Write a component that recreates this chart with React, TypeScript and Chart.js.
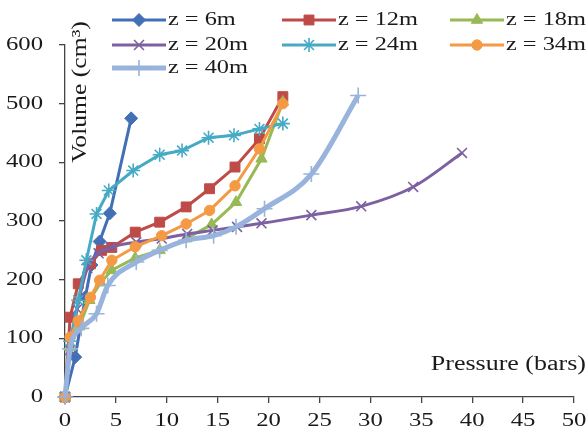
import React, { useEffect, useRef } from "react";
import { Chart, registerables } from "chart.js";
import { drawPoint } from "chart.js/helpers";

Chart.register(...registerables);

const seriesNames = ["z = 6m", "z = 12m", "z = 18m", "z = 20m", "z = 24m", "z = 34m", "z = 40m"];

const x6 = [0, 1.0, 2.0, 2.6, 3.4, 4.4, 6.5];
const y6 = [0, 68, 170, 225, 265, 313, 475];

const x12 = [0, 0.5, 1.3, 2.5, 3.6, 4.6, 6.9, 9.3, 11.9, 14.2, 16.7, 19.1, 21.4];
const y12 = [0, 136, 193, 227, 250, 255, 281, 298, 324, 355, 392, 440, 512];

const x18 = [0, 0.5, 1.4, 2.4, 3.5, 4.6, 6.9, 9.3, 11.9, 14.4, 16.8, 19.3, 21.4];
const y18 = [0, 85, 120, 165, 195, 216, 237, 250, 270, 294, 332, 406, 503];

const x20 = [0, 0.5, 1.2, 2.2, 3.3, 4.5, 7, 9.5, 12, 14.5, 16.9, 19.3, 24.2, 29.1, 34.2, 39];
const y20 = [0, 80, 150, 220, 245, 255, 264, 270, 278, 284, 290, 296, 310, 325, 358, 416];

const x24 = [0, 0.5, 1.3, 2.1, 3.1, 4.3, 6.7, 9.3, 11.5, 14.1, 16.6, 19.1, 21.4];
const y24 = [0, 95, 165, 233, 312, 352, 386, 413, 420, 442, 446, 457, 466];

const x34 = [0, 0.5, 1.3, 2.5, 3.4, 4.6, 6.9, 9.5, 11.9, 14.2, 16.7, 19.1, 21.4];
const y34 = [0, 102, 130, 170, 199, 233, 256, 275, 295, 318, 360, 423, 500];

const x40 = [0, 0.5, 1.6, 3.1, 4.2, 7, 9.3, 11.9, 14.6, 16.8, 19.6, 24.2, 28.8];
const y40 = [0, 82, 117, 142, 190, 230, 250, 267, 275, 290, 321, 380, 514];

const xTickLabels = ["0", "5", "10", "15", "20", "25", "30", "35", "40", "45", "50"];
const yTickLabels = ["0", "100", "200", "300", "400", "500", "600"];

const colors = ["#426FB5", "#BE4B48", "#98B954", "#7D60A0", "#46AAC5", "#F59A44", "#98B3DC"];
const pointStyles = ["rectRot", "rect", "triangle", "crossRot", "star", "circle", "cross"];
const pointRadii = [6.5, 7, 6.5, 7, 7, 5.2, 8];
const lineWidths = [3, 3, 3, 3, 3, 3, 5];
const smooth = [false, false, false, true, false, false, true];

const xs = [x6, x12, x18, x20, x24, x34, x40];
const ys = [y6, y12, y18, y20, y24, y34, y40];

const FONT = "'Liberation Serif', 'Times New Roman', serif";
const STRETCH = 1.3;

function stretchedText(ctx: CanvasRenderingContext2D, text: string, x: number, y: number, align: CanvasTextAlign, size: number, stretch: number, rotate = 0) {
  ctx.save();
  ctx.translate(x, y);
  if (rotate) ctx.rotate(rotate);
  ctx.scale(stretch, 1);
  ctx.font = `${size}px ${FONT}`;
  ctx.textAlign = align;
  ctx.textBaseline = "middle";
  ctx.fillStyle = "#1a1a1a";
  ctx.fillText(text, 0, 0);
  ctx.restore();
}

const textPlugin = {
  id: "textPlugin",
  afterDraw(chart: any) {
    const ctx = chart.ctx as CanvasRenderingContext2D;
    const xs_ = chart.scales.x;
    const ys_ = chart.scales.y;
    xTickLabels.forEach((t) => {
      const px = xs_.getPixelForValue(Number(t));
      stretchedText(ctx, t, px, 421, "center", 19, STRETCH);
    });
    yTickLabels.forEach((t) => {
      const py = ys_.getPixelForValue(Number(t));
      stretchedText(ctx, t, 43, py, "right", 19, STRETCH);
    });
    stretchedText(ctx, "Pressure (bars)", 586, 365, "right", 20, STRETCH);
    stretchedText(ctx, "Volume (cm³)", 80, 92, "center", 21, 1.22, -Math.PI / 2);
    const colX = [112, 282, 450];
    const rowY = [20, 45, 68];
    chart.data.datasets.forEach((ds: any, i: number) => {
      const cx = colX[i % 3];
      const cy = rowY[Math.floor(i / 3)];
      ctx.save();
      ctx.strokeStyle = ds.borderColor;
      ctx.lineWidth = ds.borderWidth;
      ctx.lineCap = "butt";
      ctx.beginPath();
      ctx.moveTo(cx, cy);
      ctx.lineTo(cx + 54, cy);
      ctx.stroke();
      ctx.fillStyle = ds.pointBackgroundColor;
      ctx.strokeStyle = ds.pointBorderColor;
      ctx.lineWidth = ds.pointBorderWidth;
      drawPoint(ctx, { pointStyle: ds.pointStyle, radius: ds.pointRadius, rotation: 0, borderWidth: ds.pointBorderWidth }, cx + 27, cy);
      ctx.restore();
      stretchedText(ctx, seriesNames[i], cx + 56, cy, "left", 19, 1.28);
    });
  },
};

export default function App() {
  const ref = useRef<HTMLCanvasElement>(null);
  useEffect(() => {
    document.body.style.margin = "0";
    const datasets = seriesNames.map((name, i) => {
      const isLineMarker = ["crossRot", "star", "cross"].includes(pointStyles[i]);
      return {
        label: name,
        data: xs[i].map((x, j) => ({ x, y: ys[i][j] })),
        showLine: true,
        borderColor: colors[i],
        backgroundColor: colors[i],
        borderWidth: lineWidths[i],
        pointStyle: pointStyles[i],
        pointRadius: pointRadii[i],
        pointBackgroundColor: colors[i],
        pointBorderColor: colors[i],
        pointBorderWidth: isLineMarker ? 1.6 : 1,
        cubicInterpolationMode: smooth[i] ? "monotone" : "default",
        tension: 0,
        clip: false,
        order: seriesNames.length - i,
      };
    });
    const chart = new Chart(ref.current as HTMLCanvasElement, {
      type: "scatter",
      data: { datasets } as any,
      options: {
        animation: false,
        responsive: false,
        layout: { padding: { top: 45, right: 13, left: 0, bottom: 0 } },
        plugins: { legend: { display: false }, tooltip: { enabled: false } },
        scales: {
          x: {
            type: "linear",
            min: 0,
            max: 50,
            afterFit: (s: any) => { s.height = 40; },
            ticks: { stepSize: 5, color: "rgba(0,0,0,0)", font: { size: 12 } },
            grid: { drawOnChartArea: false, drawTicks: true, tickLength: 6, color: "#444", lineWidth: 1.3 },
            border: { color: "#444", width: 1.3 },
          },
          y: {
            type: "linear",
            min: 0,
            max: 600,
            afterFit: (s: any) => { s.width = 65; },
            ticks: { stepSize: 100, color: "rgba(0,0,0,0)", font: { size: 12 } },
            grid: { drawOnChartArea: false, drawTicks: true, tickLength: 6, color: "#444", lineWidth: 1.3 },
            border: { color: "#444", width: 1.3 },
          },
        },
      } as any,
      plugins: [textPlugin],
    });
    return () => chart.destroy();
  }, []);
  return <canvas ref={ref} width={587} height={437} style={{ display: "block" }} />;
}
